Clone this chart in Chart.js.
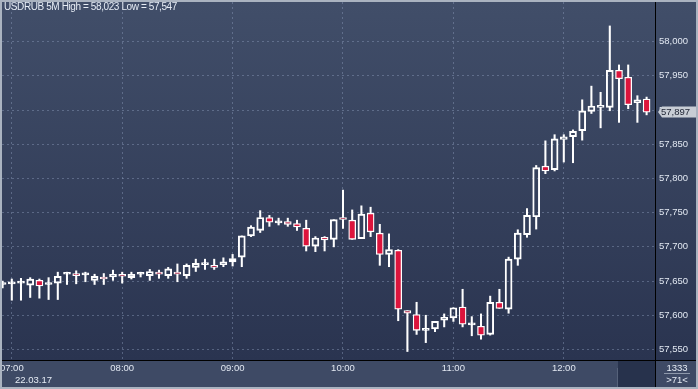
<!DOCTYPE html>
<html>
<head>
<meta charset="utf-8">
<script src="https://cdn.jsdelivr.net/npm/chart.js@4.4.1/dist/chart.umd.min.js"></script>
<style>
  html, body { margin: 0; padding: 0; background: #aab3c0; }
  #frame { position: absolute; left: 0; top: 0; width: 698px; height: 389px; background: #aab3c0; overflow: hidden; }
  #wrap { position: absolute; left: 2px; top: 2px; width: 694px; height: 385px; }
  .txt { position: absolute; font-family: "Liberation Sans", Arial, sans-serif; font-size: 10px; line-height: 12px; color: #e6ecf5; white-space: nowrap; }
  #title { left: 4px; top: 1px; letter-spacing: -0.4px; }
  #date { left: 15px; top: 374px; font-size: 9.5px; }
  #count { left: 657px; top: 362px; width: 40px; text-align: center; font-size: 9.5px; }
  #bars { left: 657px; top: 374px; width: 40px; text-align: center; font-size: 9.5px; }
  #sep { position: absolute; left: 664px; top: 373px; width: 26px; height: 1px; background: #8e99ab; }
</style>
</head>
<body>
<div id="frame">
  <div id="wrap"><canvas id="chart" width="694" height="385"></canvas></div>
  <div id="title" class="txt"></div>
  <div id="date" class="txt">22.03.17</div>
  <div id="count" class="txt">1333</div>
  <div id="sep"></div>
  <div id="bars" class="txt">&gt;71&lt;</div>
</div>
<script>
// USDRUB, 5 minute bars, first bar = 06:55 (index -1), 07:00 = index 0
const firstIndex = -1;
const hourTicks = ['07:00', '08:00', '09:00', '10:00', '11:00', '12:00'];
const topTick = 58.000;

const opens = [
  57.645, 57.646, 57.647, 57.644, 57.651, 57.645, 57.647, 57.660, 57.660, 57.659,
  57.651, 57.656, 57.656, 57.660, 57.655, 57.660, 57.658, 57.663, 57.658, 57.663,
  57.658, 57.670, 57.674, 57.673, 57.674, 57.678, 57.685, 57.716, 57.724, 57.743,
  57.735, 57.737, 57.734, 57.727, 57.701, 57.714, 57.711, 57.743, 57.739, 57.712,
  57.749, 57.720, 57.689, 57.695, 57.607, 57.601, 57.578, 57.580, 57.593, 57.596,
  57.612, 57.586, 57.584, 57.572, 57.619, 57.609, 57.682, 57.718, 57.744, 57.818,
  57.813, 57.857, 57.861, 57.870, 57.898, 57.904, 57.904, 57.958, 57.948, 57.911,
  57.916
];
const highs = [
  57.650, 57.653, 57.654, 57.655, 57.653, 57.655, 57.663, 57.663, 57.665, 57.663,
  57.660, 57.661, 57.666, 57.663, 57.663, 57.663, 57.667, 57.666, 57.670, 57.675,
  57.675, 57.682, 57.682, 57.682, 57.684, 57.689, 57.716, 57.731, 57.753, 57.746,
  57.742, 57.742, 57.739, 57.739, 57.715, 57.715, 57.740, 57.783, 57.754, 57.760,
  57.758, 57.733, 57.719, 57.696, 57.607, 57.619, 57.600, 57.591, 57.602, 57.611,
  57.638, 57.598, 57.602, 57.628, 57.638, 57.685, 57.725, 57.756, 57.819, 57.855,
  57.864, 57.864, 57.871, 57.915, 57.935, 57.926, 58.023, 57.966, 57.966, 57.921,
  57.919
];
const lows = [
  57.640, 57.622, 57.622, 57.626, 57.625, 57.623, 57.623, 57.645, 57.646, 57.649,
  57.645, 57.645, 57.651, 57.647, 57.653, 57.656, 57.651, 57.654, 57.654, 57.649,
  57.654, 57.664, 57.667, 57.667, 57.671, 57.672, 57.671, 57.715, 57.721, 57.730,
  57.732, 57.730, 57.724, 57.694, 57.693, 57.694, 57.700, 57.727, 57.711, 57.712,
  57.715, 57.673, 57.671, 57.592, 57.547, 57.572, 57.560, 57.576, 57.583, 57.591,
  57.583, 57.570, 57.565, 57.571, 57.610, 57.603, 57.673, 57.714, 57.726, 57.807,
  57.811, 57.824, 57.823, 57.856, 57.895, 57.874, 57.899, 57.882, 57.902, 57.882,
  57.893
];
const closes = [
  57.645, 57.646, 57.647, 57.653, 57.643, 57.645, 57.657, 57.660, 57.658, 57.659,
  57.657, 57.653, 57.660, 57.657, 57.660, 57.660, 57.664, 57.660, 57.668, 57.660,
  57.673, 57.676, 57.674, 57.670, 57.678, 57.683, 57.716, 57.729, 57.743, 57.736,
  57.735, 57.733, 57.729, 57.701, 57.713, 57.710, 57.740, 57.740, 57.711, 57.748,
  57.722, 57.689, 57.696, 57.609, 57.603, 57.578, 57.578, 57.591, 57.597, 57.611,
  57.587, 57.586, 57.571, 57.619, 57.610, 57.682, 57.720, 57.746, 57.816, 57.811,
  57.858, 57.861, 57.869, 57.899, 57.906, 57.907, 57.958, 57.946, 57.908, 57.915,
  57.897
];

const fmt = v => v.toFixed(3).replace('.', ',');
const bull = '#ffffff';
const bear = '#dc143c';

const xs = opens.map((_, k) => k + firstIndex);
const bodies = xs.map((x, k) => ({ x, y: [opens[k], closes[k]] }));
const upperWicks = xs.map((x, k) => ({ x, y: [Math.max(opens[k], closes[k]), highs[k]] }));
const lowerWicks = xs.map((x, k) => ({ x, y: [lows[k], Math.min(opens[k], closes[k])] }));
const bodyFill = opens.map((o, k) => closes[k] < o ? bear : 'rgba(0,0,0,0)');

document.getElementById('title').textContent =
  'USDRUB 5M High = ' + fmt(Math.max(...highs)) + ' Low = ' + fmt(Math.min(...lows));

const axisFont = { family: '"Liberation Sans", Arial, sans-serif', size: 9.5 };
const gridColor = 'rgba(140,156,186,0.45)';

const panels = {
  id: 'panels',
  beforeDraw(chart) {
    const { ctx, chartArea: a, width, height } = chart;
    ctx.save();
    const g = ctx.createLinearGradient(0, 0, 0, a.bottom);
    g.addColorStop(0, '#414e69');
    g.addColorStop(1, '#2a3450');
    ctx.fillStyle = g;
    ctx.fillRect(0, 0, width, a.bottom);
    ctx.fillStyle = '#3e4a65';
    ctx.fillRect(0, a.bottom, width, height - a.bottom);
    ctx.fillStyle = '#27324c';
    ctx.fillRect(616, a.bottom, a.right - 616, height - a.bottom);
    ctx.fillStyle = '#56627a';
    ctx.fillRect(615, a.bottom + 8, 1, height - a.bottom - 8);
    ctx.restore();
  },
  afterDraw(chart) {
    const { ctx, chartArea: a, width, height, scales } = chart;
    ctx.save();
    ctx.fillStyle = '#000000';
    ctx.fillRect(a.right, 0, 1, height);
    ctx.fillRect(0, a.bottom, width, 1);
    // last price tag
    const last = closes[closes.length - 1];
    const py = Math.round(scales.y.getPixelForValue(last));
    const tx = a.right + 3;
    ctx.fillStyle = '#c8cdd5';
    ctx.beginPath();
    ctx.moveTo(tx, py);
    ctx.lineTo(tx + 4, py - 5.5);
    ctx.lineTo(width, py - 5.5);
    ctx.lineTo(width, py + 5.5);
    ctx.lineTo(tx + 4, py + 5.5);
    ctx.closePath();
    ctx.fill();
    ctx.fillStyle = '#1d2333';
    ctx.font = '9.5px "Liberation Sans", Arial, sans-serif';
    ctx.textBaseline = 'middle';
    ctx.fillText(fmt(last), tx + 3, py + 0.5);
    ctx.restore();
  }
};

new Chart(document.getElementById('chart'), {
  type: 'bar',
  data: {
    datasets: [
      {
        data: upperWicks, backgroundColor: '#ffffff', borderWidth: 0,
        barThickness: 1.4, grouped: false, minBarLength: 0
      },
      {
        data: lowerWicks, backgroundColor: '#ffffff', borderWidth: 0,
        barThickness: 1.4, grouped: false, minBarLength: 0
      },
      {
        data: bodies, backgroundColor: bodyFill, borderColor: bull, borderWidth: 1.3,
        borderSkipped: false, barThickness: 7, grouped: false, minBarLength: 2
      }
    ]
  },
  options: {
    responsive: false,
    animation: false,
    layout: { padding: 0 },
    plugins: { legend: { display: false }, tooltip: { enabled: false }, title: { display: false } },
    scales: {
      x: {
        type: 'linear',
        min: -1.065,
        max: 69.913,
        offset: false,
        grid: { color: gridColor, drawTicks: false, offset: false },
        border: { display: false, dash: [2, 3] },
        ticks: {
          stepSize: 12, includeBounds: false, autoSkip: false, maxRotation: 0,
          color: '#e2e8f2', font: axisFont, padding: 3,
          callback: v => hourTicks[v / 12]
        },
        afterFit(s) { s.height = 27; s.paddingLeft = 0; s.paddingRight = 0; }
      },
      y: {
        position: 'right',
        min: 57.5346,
        max: 58.058,
        grid: { color: gridColor, drawTicks: false },
        border: { display: false, dash: [2, 3] },
        ticks: {
          stepSize: 0.05, includeBounds: false, color: '#e2e8f2', font: axisFont, padding: 4,
          callback: v => fmt(v)
        },
        afterBuildTicks(s) { s.ticks = s.ticks.filter(t => t.value <= topTick + 1e-6); },
        afterFit(s) { s.width = 41; s.paddingTop = 0; s.paddingBottom = 0; }
      }
    }
  },
  plugins: [panels]
});
</script>
</body>
</html>
